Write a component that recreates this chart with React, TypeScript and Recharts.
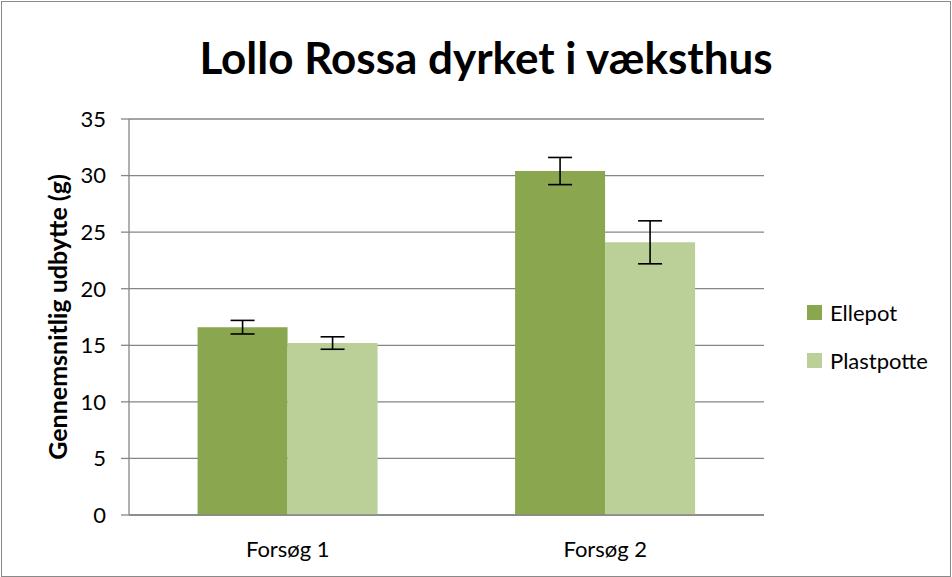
import { Bar, BarChart, CartesianGrid, ErrorBar, XAxis, YAxis } from 'recharts';

const categories = ['Forsøg 1', 'Forsøg 2'];
const ellepot = [16.6, 30.4];
const ellepotErr = [0.6, 1.2];
const plastpotte = [15.2, 24.1];
const plastpotteErr = [0.55, 1.9];
const yTicks = [0, 5, 10, 15, 20, 25, 30, 35];
const seriesNames = ['Ellepot', 'Plastpotte'] as const;

const data = categories.map((name, i) => ({
  name,
  Ellepot: ellepot[i],
  ellepotErr: ellepotErr[i],
  Plastpotte: plastpotte[i],
  plastpotteErr: plastpotteErr[i],
}));

const FONT = 'Lato, "Open Sans", sans-serif';
const GRID = '#868686';
const COLORS = { Ellepot: '#8AA64F', Plastpotte: '#BBCF98' };

const LegendBox = () => (
  <div style={{ position: 'absolute', left: 807, top: 288, fontFamily: FONT, fontSize: 22, color: '#000' }}>
    {seriesNames.map((k) => (
      <div key={k} style={{ display: 'flex', alignItems: 'center', height: 48 }}>
        <span style={{ width: 15, height: 15, background: COLORS[k], marginRight: 8 }} />
        {k}
      </div>
    ))}
  </div>
);

// rotated y-axis title
const YTitle = () => (
  <text
    x={57}
    y={317}
    transform='rotate(-90 57 317)'
    textAnchor='middle'
    dominantBaseline='central'
    style={{ fontFamily: FONT, fontSize: 25, fontWeight: 700, fill: '#000' }}
  >
    Gennemsnitlig udbytte (g)
  </text>
);

export default function App() {
  return (
    <div style={{ position: 'absolute', left: 0, top: 0, width: 952, height: 577, background: '#fff' }}>
      <div
        style={{
          position: 'absolute',
          left: 1,
          top: 1,
          width: 948,
          height: 574,
          border: '1px solid #898989',
        }}
      />
      <div
        style={{
          position: 'absolute',
          left: 0,
          width: 972,
          top: 31,
          textAlign: 'center',
          fontFamily: FONT,
          fontWeight: 700,
          fontSize: 44,
          lineHeight: 1.2,
          color: '#000',
        }}
      >
        Lollo Rossa dyrket i væksthus
      </div>
      <BarChart
        width={952}
        height={577}
        data={data}
        margin={{ top: 119, right: 188, left: 0, bottom: 32 }}
        barCategoryGap='21.6%'
        barGap={0}
        style={{ position: 'absolute', left: 0, top: 0 }}
      >
        <CartesianGrid vertical={false} stroke={GRID} strokeWidth={1.3} />
        <XAxis
          dataKey='name'
          height={30}
          tickLine={false}
          axisLine={{ stroke: GRID, strokeWidth: 1.3 }}
          tick={{ fill: '#000', fontSize: 22, fontFamily: FONT }}
          tickMargin={20}
        />
        <YAxis
          width={129}
          domain={[0, 35]}
          ticks={yTicks}
          interval={0}
          tickSize={8}
          tickMargin={15}
          axisLine={{ stroke: GRID, strokeWidth: 1.3 }}
          tickLine={{ stroke: GRID, strokeWidth: 1.3 }}
          tick={{ fill: '#000', fontSize: 22, fontFamily: FONT }}
          label={<YTitle />}
        />
        <Bar dataKey='Ellepot' fill={COLORS.Ellepot} isAnimationActive={false}>
          <ErrorBar dataKey='ellepotErr' width={12} stroke='#000' strokeWidth={1.6} />
        </Bar>
        <Bar dataKey='Plastpotte' fill={COLORS.Plastpotte} isAnimationActive={false}>
          <ErrorBar dataKey='plastpotteErr' width={12} stroke='#000' strokeWidth={1.6} />
        </Bar>
      </BarChart>
      <LegendBox />
    </div>
  );
}
